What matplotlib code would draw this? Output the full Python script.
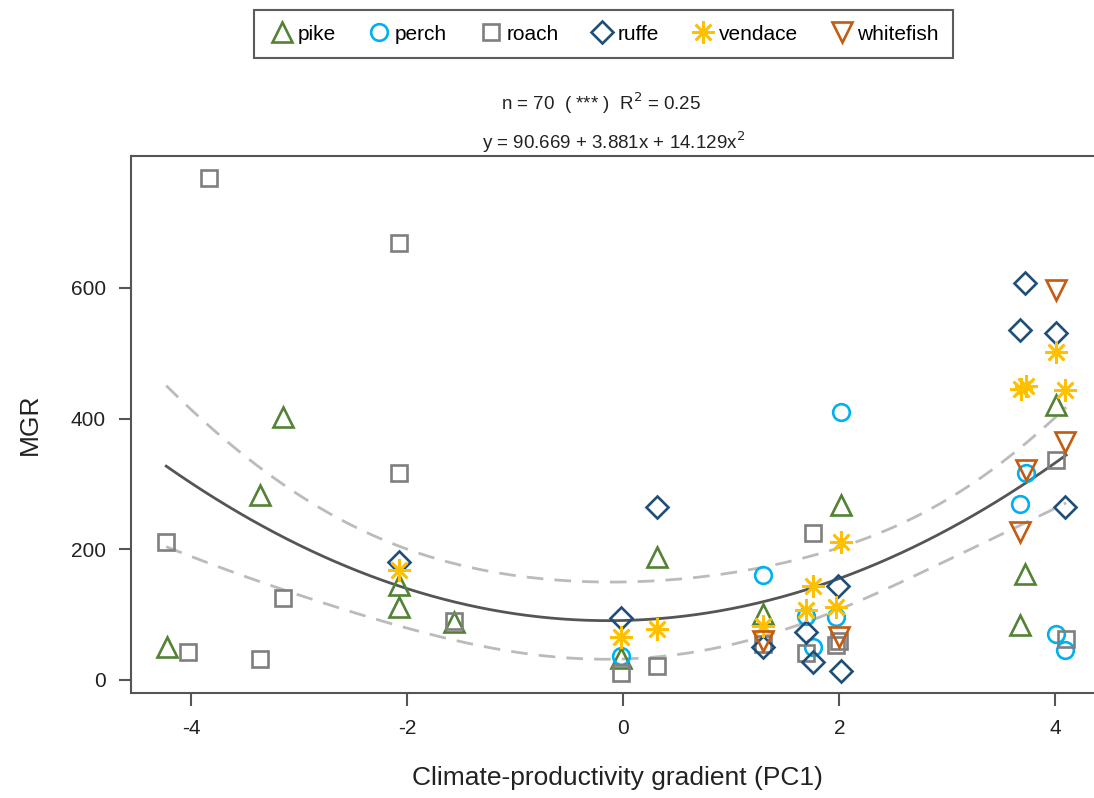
import numpy as np
import matplotlib
matplotlib.use("Agg")
import matplotlib.pyplot as plt
from matplotlib.lines import Line2D

plt.rcParams['font.family'] = ['Liberation Sans', 'DejaVu Sans']
plt.rcParams['axes.unicode_minus'] = False

species = ["pike", "perch", "roach", "ruffe", "vendace", "whitefish"]

pike_x = [-4.22, -3.36, -3.15, -2.08, -2.08, -1.57, -0.02, 0.31, 1.29, 2.02, 3.72, 3.67, 4.01]
pike_y = [50, 283, 403, 145, 111, 88, 33, 188, 101, 267, 162, 83, 420]

perch_x = [-0.02, 1.29, 1.69, 1.76, 1.97, 2.02, 3.73, 3.67, 4.01, 4.09]
perch_y = [36, 160, 97, 50, 96, 410, 317, 269, 70, 45]

roach_x = [-4.23, -4.03, -3.83, -3.36, -3.15, -2.08, -2.08, -1.57, -0.02, 0.31, 1.29, 1.76, 1.69, 2.00, 1.97, 4.01, 4.10]
roach_y = [211, 42, 768, 32, 125, 669, 317, 90, 10, 21, 55, 225, 41, 60, 53, 336, 63]

ruffe_x = [-2.08, -0.02, 0.31, 1.29, 1.69, 1.76, 1.99, 2.02, 3.72, 3.67, 4.01, 4.09]
ruffe_y = [180, 94, 265, 50, 73, 27, 143, 13, 607, 536, 531, 264]

vendace_x = [-2.08, -0.02, 0.31, 1.29, 1.69, 1.76, 1.97, 2.02, 3.68, 3.73, 4.01, 4.09]
vendace_y = [168, 66, 78, 82, 106, 143, 111, 211, 445, 450, 502, 444]

whitefish_x = [1.29, 2.00, 4.01, 4.09, 3.73, 3.67]
whitefish_y = [60, 65, 597, 364, 321, 226]

coef = [90.669, 3.881, 14.129]  # y = b0 + b1 x + b2 x^2 (from annotation)

xs_all = {"pike": pike_x, "perch": perch_x, "roach": roach_x, "ruffe": ruffe_x,
          "vendace": vendace_x, "whitefish": whitefish_x}
ys_all = {"pike": pike_y, "perch": perch_y, "roach": roach_y, "ruffe": ruffe_y,
          "vendace": vendace_y, "whitefish": whitefish_y}

styles = {
    "pike": dict(marker="^", color="#548235", ms=14),
    "perch": dict(marker="o", color="#00B0F0", ms=12),
    "roach": dict(marker="s", color="#7F7F7F", ms=12),
    "ruffe": dict(marker="D", color="#1F4E79", ms=11),
    "vendace": dict(marker=(8, 2, 0), color="#FFC000", ms=16),
    "whitefish": dict(marker="v", color="#C55A11", ms=14),
}

fig = plt.figure(figsize=(10.94, 7.98), dpi=100)
ax = fig.add_axes([131/1094, 1-693/798, (1104-131)/1094, (693-155.7)/798])

# fit line + 95% confidence band of the quadratic fit
X_all = np.concatenate([np.asarray(xs_all[s], float) for s in species])
Y_all = np.concatenate([np.asarray(ys_all[s], float) for s in species])
D = np.column_stack([np.ones_like(X_all), X_all, X_all**2])
beta, res, rk, sv = np.linalg.lstsq(D, Y_all, rcond=None)
resid = Y_all - D @ beta
s2 = resid @ resid / (len(Y_all) - 3)
XtXi = np.linalg.inv(D.T @ D)

xg = np.linspace(min(X_all), max(X_all), 300)
Dg = np.column_stack([np.ones_like(xg), xg, xg**2])
yhat = Dg @ np.asarray(coef)
se = np.sqrt(np.einsum('ij,jk,ik->i', Dg, XtXi, Dg) * s2)
band = 1.96 * se

ax.plot(xg, yhat, color="#555555", lw=2.0, zorder=2)
ax.plot(xg, yhat + band, color="#BBBBBB", lw=2.0, ls=(0, (6, 4)), zorder=2)
ax.plot(xg, yhat - band, color="#BBBBBB", lw=2.0, ls=(0, (6, 4)), zorder=2)

for s in species:
    st = styles[s]
    ax.plot(xs_all[s], ys_all[s], ls="none", marker=st["marker"], ms=st["ms"],
            mfc="none", mec=st["color"], mew=1.9, zorder=3)

ax.set_xlim(-4.556, 4.45)
ax.set_ylim(-20.4, 802.5)
ax.set_xticks([-4, -2, 0, 2, 4])
ax.set_yticks([0, 200, 400, 600])
for sp in ["left", "bottom", "top", "right"]:
    ax.spines[sp].set_color("#555555")
    ax.spines[sp].set_linewidth(1.5)
ax.tick_params(axis="both", colors="#555555", labelcolor="#222222",
               labelsize=15, length=9, width=1.5)
ax.tick_params(axis="x", pad=10)
ax.tick_params(axis="y", pad=9)
ax.set_xlabel("Climate-productivity gradient (PC1)", fontsize=19, color="#222222", labelpad=20)
ax.set_ylabel("MGR", fontsize=19, color="#222222", labelpad=21)

fig.text(0.549, 1-103/798, r"n = 70  ( *** )  R$^2$ = 0.25", ha="center", va="center",
         fontsize=13.5, color="#222222")
fig.text(0.561, 1-142/798, r"y = 90.669 + 3.881x + 14.129x$^2$", ha="center", va="center",
         fontsize=13.5, color="#222222")

handles = [Line2D([], [], ls="none", marker=styles[s]["marker"], ms=styles[s]["ms"],
                  mfc="none", mec=styles[s]["color"], mew=1.9) for s in species]
leg = fig.legend(handles, species, loc="center", bbox_to_anchor=(603.5/1094, 1-34/798),
                 ncol=6, fontsize=15, frameon=True, fancybox=False, edgecolor="#333333",
                 handletextpad=0.1, columnspacing=1.45, borderpad=0.7, handlelength=1.3)
leg.get_frame().set_linewidth(1.5)

fig.savefig("out.png", dpi=100)
